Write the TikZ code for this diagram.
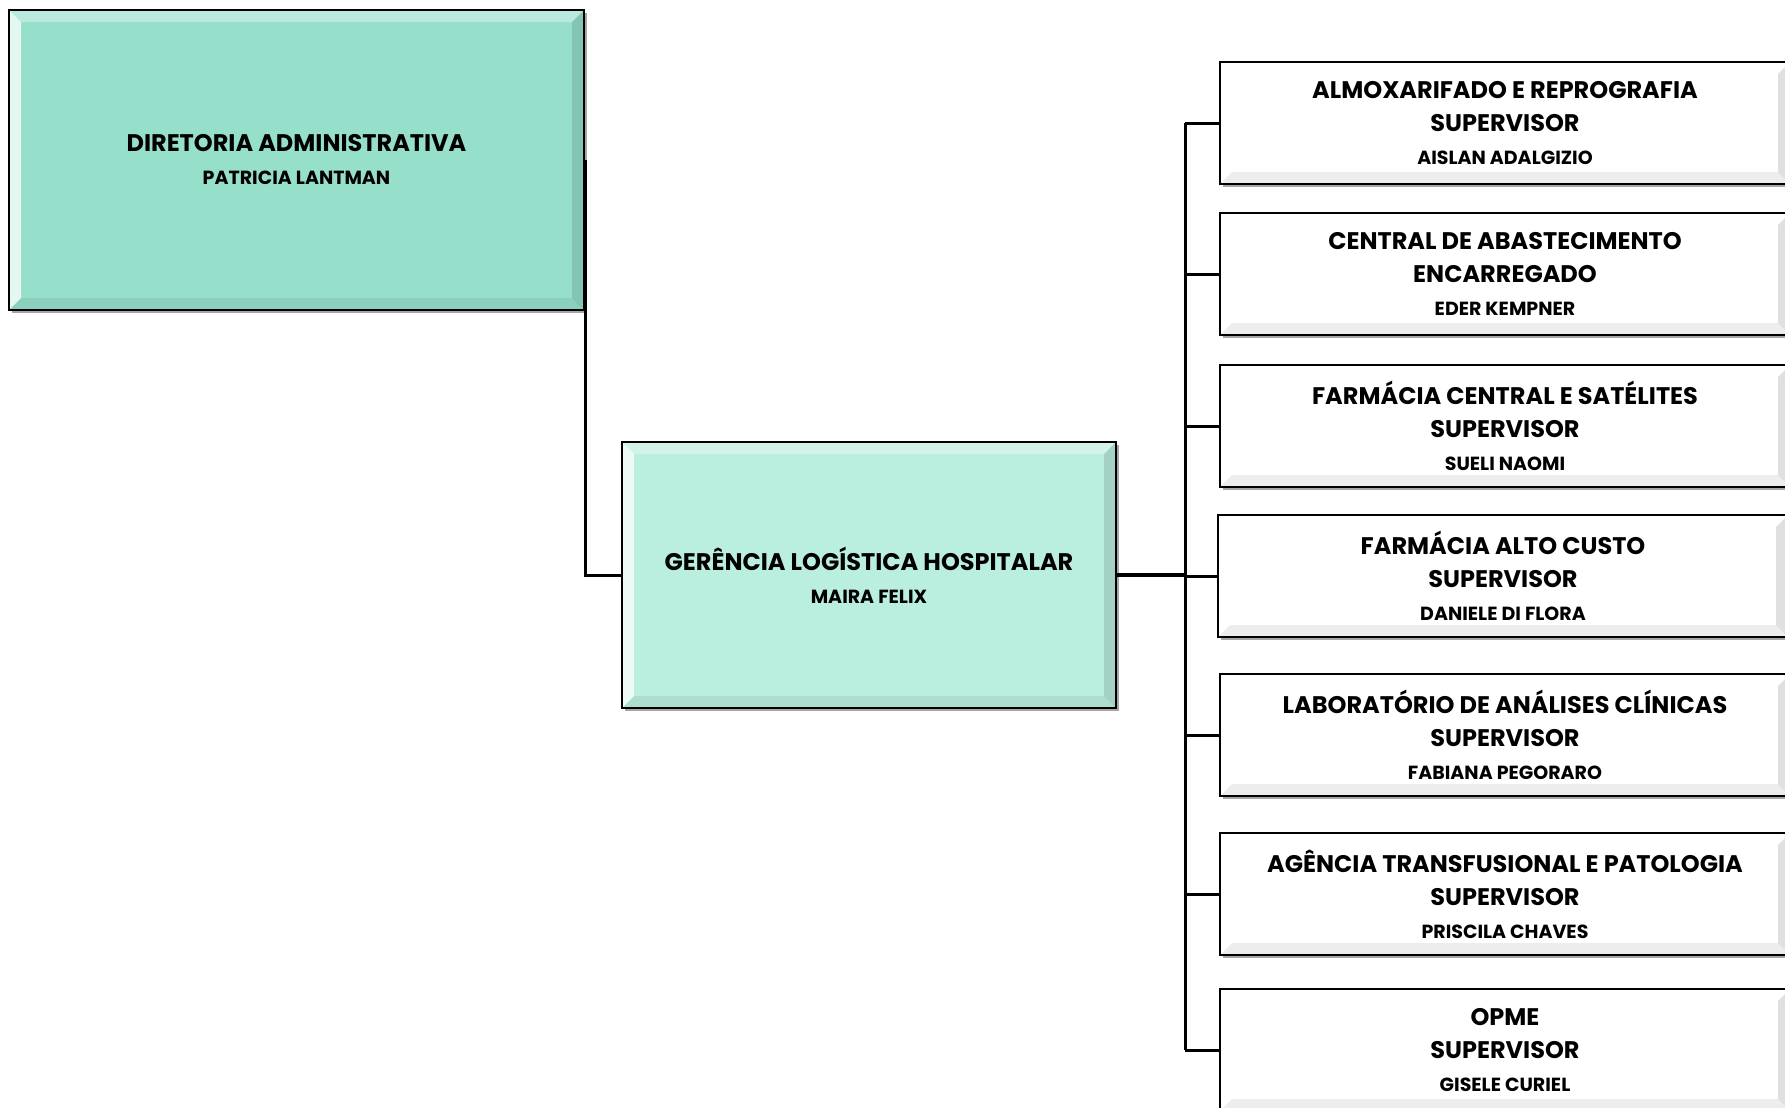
\documentclass[tikz,border=0pt]{standalone}
\usepackage{fontspec}
\setmainfont{Poppins}
\usetikzlibrary{calc,shadows}

\definecolor{dirgreen}{RGB}{150,224,203}
\definecolor{gerteal}{RGB}{186,238,223}
\newcommand{\boxtitle}{\fontsize{12}{16.5}\selectfont\bfseries}
\newcommand{\boxname}{\fontsize{9.5}{16.5}\selectfont\bfseries}

\begin{document}
\begin{tikzpicture}[x=0.5pt,y=-0.5pt,
    bevel/.style={path picture={
      \coordinate (bvsw) at (path picture bounding box.south west);
      \coordinate (bvne) at (path picture bounding box.north east);
      \coordinate (bvnw) at (bvsw |- bvne);
      \coordinate (bvse) at (bvne |- bvsw);
      \fill[white,opacity=.75] (bvsw) -- (bvnw) -- ([shift={(6pt,-6pt)}]bvnw) -- ([shift={(6pt,6pt)}]bvsw) -- cycle;
      \fill[white,opacity=.35] (bvnw) -- (bvne) -- ([shift={(-6pt,-6pt)}]bvne) -- ([shift={(6pt,-6pt)}]bvnw) -- cycle;
      \fill[black,opacity=.12] (bvne) -- (bvse) -- ([shift={(-6pt,6pt)}]bvse) -- ([shift={(-6pt,-6pt)}]bvne) -- cycle;
      \fill[black,opacity=.07] (bvsw) -- (bvse) -- ([shift={(-6pt,6pt)}]bvse) -- ([shift={(6pt,6pt)}]bvsw) -- cycle;
    }},
    orgbox/.style={draw=black,line width=1.1pt,inner sep=0pt,align=center,font=\boxtitle,
      drop shadow={shadow xshift=1.5pt,shadow yshift=-1.5pt,opacity=.35,fill=black},bevel},
    unitbox/.style={orgbox,fill=white,minimum width=285pt,minimum height=61pt},
    conn/.style={line width=1.5pt}]

  \useasboundingbox (0,0) rectangle (1785,1108);
  \clip (0,0) rectangle (1785,1108);

  % DIRETORIA
  \node[orgbox,fill=dirgreen,minimum width=287.5pt,minimum height=150pt] (dir) at (296.5,160)
    {DIRETORIA ADMINISTRATIVA\\ \boxname PATRICIA LANTMAN};

  % GERENCIA
  \node[orgbox,fill=gerteal,minimum width=247pt,minimum height=133pt] (ger) at (869,575)
    {GERÊNCIA LOGÍSTICA HOSPITALAR\\ \boxname MAIRA FELIX};

  % UNIDADES
  \node[unitbox] (almox) at (1505,123)
    {ALMOXARIFADO E REPROGRAFIA\\ SUPERVISOR\\ \boxname AISLAN ADALGIZIO};
  \node[unitbox] (central) at (1505,274)
    {CENTRAL DE ABASTECIMENTO\\ ENCARREGADO\\ \boxname EDER KEMPNER};
  \node[unitbox] (farmcent) at (1505,426)
    {FARMÁCIA CENTRAL E SATÉLITES\\ SUPERVISOR\\ \boxname SUELI NAOMI};
  \node[unitbox] (farmalto) at (1503,576)
    {FARMÁCIA ALTO CUSTO\\ SUPERVISOR\\ \boxname DANIELE DI FLORA};
  \node[unitbox] (lab) at (1505,735)
    {LABORATÓRIO DE ANÁLISES CLÍNICAS\\ SUPERVISOR\\ \boxname FABIANA PEGORARO};
  \node[unitbox] (agencia) at (1505,894)
    {AGÊNCIA TRANSFUSIONAL E PATOLOGIA\\ SUPERVISOR\\ \boxname PRISCILA CHAVES};
  \node[unitbox] (opme) at (1505,1050)
    {OPME\\ SUPERVISOR\\ \boxname GISELE CURIEL};

  % ligacoes
  \draw[conn] (dir.east) |- (ger.west);
  \coordinate (bus) at (1185,575);
  \draw[conn,line width=2pt] (ger.east) -- (bus);
  \draw[conn] (bus |- almox.west) -- (bus |- opme.west);
  \foreach \n in {almox,central,farmcent,farmalto,lab,agencia,opme}
    \draw[conn] (bus |- \n.west) -- (\n.west);

\end{tikzpicture}
\end{document}
